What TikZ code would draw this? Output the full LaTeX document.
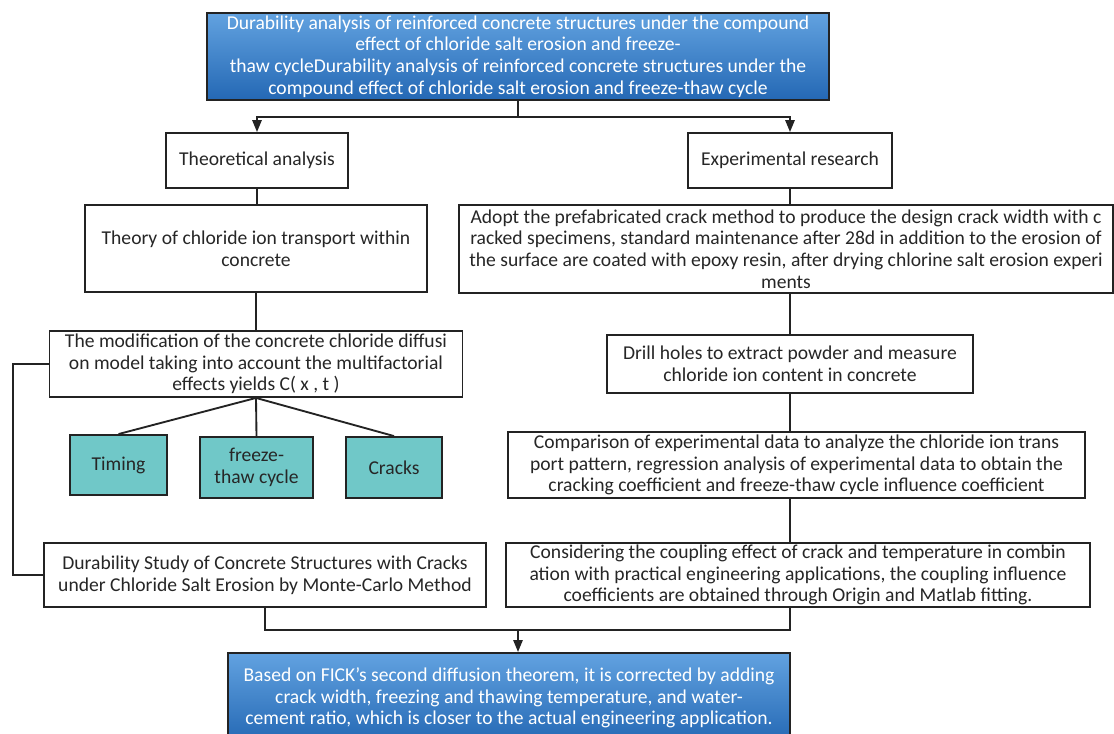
\documentclass[tikz,border=0pt]{standalone}
\usepackage{fontspec}
\setmainfont{Carlito}
\usepackage{xcolor}
\usetikzlibrary{arrows.meta}
\usetikzlibrary{calc}
\definecolor{bluetop}{RGB}{98,162,224}
\definecolor{bluebot}{RGB}{36,104,180}
\definecolor{tealbox}{RGB}{112,200,200}
\definecolor{edge}{RGB}{35,35,35}

\tikzset{
  box/.style={draw=edge, line width=1.4pt, fill=white, align=center, inner sep=0pt,
    text=black!85, font=\fontsize{14.7}{16.2}\selectfont},
  bluebox/.style={box, top color=bluetop, bottom color=bluebot, text=white},
  factor/.style={box, fill=tealbox},
  link/.style={draw=edge, line width=1.4pt},
  arr/.style={link, -{Triangle[length=9pt,width=7pt]}}
}

\begin{document}
\begin{tikzpicture}[x=0.75pt,y=-0.75pt]
   \useasboundingbox (0,0) rectangle (1114,734);

   \node[bluebox, minimum width=622*0.75pt, minimum height=87*0.75pt] (top) at (518,56.5)
     {Durability analysis of reinforced concrete structures under the compound\\
      effect of chloride salt erosion and freeze-\\
      thaw cycleDurability analysis of reinforced concrete structures under the\\
      compound effect of chloride salt erosion and freeze-thaw cycle};

   \node[box, minimum width=182*0.75pt, minimum height=55*0.75pt] (theo) at (257,160.5) {Theoretical analysis};
   \node[box, minimum width=204*0.75pt, minimum height=55*0.75pt] (exp) at (790,160.5) {Experimental research};

   \node[box, minimum width=342*0.75pt, minimum height=87*0.75pt] (transport) at (256,248.5)
     {Theory of chloride ion transport within\\concrete};
   \node[box, minimum width=654*0.75pt, minimum height=88*0.75pt] (adopt) at (786,249)
     {Adopt the prefabricated crack method to produce the design crack width with c\\
      racked specimens, standard maintenance after 28d in addition to the erosion of\\
      the surface are coated with epoxy resin, after drying chlorine salt erosion experi\\
      ments};

   \node[box, minimum width=413*0.75pt, minimum height=66*0.75pt] (model) at (256,364)
     {The modification of the concrete chloride diffusi\\
      on model taking into account the multifactorial\\
      effects yields C( x , t )};
   \node[box, minimum width=366*0.75pt, minimum height=58*0.75pt] (drill) at (790,364)
     {Drill holes to extract powder and measure\\chloride ion content in concrete};

   \node[factor, minimum width=97*0.75pt, minimum height=60*0.75pt] (timing) at (118.5,465) {Timing};
   \node[factor, minimum width=113*0.75pt, minimum height=61*0.75pt] (freeze) at (256.5,467.5) {freeze-\\thaw cycle};
   \node[factor, minimum width=96*0.75pt, minimum height=61*0.75pt] (cracks) at (394,467.5) {Cracks};

   \node[box, minimum width=577*0.75pt, minimum height=66*0.75pt] (compare) at (796.5,465)
     {Comparison of experimental data to analyze the chloride ion trans\\
      port pattern, regression analysis of experimental data to obtain the\\
      cracking coefficient and freeze-thaw cycle influence coefficient};

   \node[box, minimum width=442*0.75pt, minimum height=64*0.75pt] (monte) at (265,575)
     {Durability Study of Concrete Structures with Cracks\\
      under Chloride Salt Erosion by Monte-Carlo Method};
   \node[box, minimum width=584*0.75pt, minimum height=64*0.75pt] (couple) at (798,575)
     {Considering the coupling effect of crack and temperature in combin\\
      ation with practical engineering applications, the coupling influence\\
      coefficients are obtained through Origin and Matlab fitting.};

   \node[bluebox, minimum width=562*0.75pt, minimum height=90*0.75pt, anchor=north] (result) at (509,652)
     {Based on FICK's second diffusion theorem, it is corrected by adding\\
      crack width, freezing and thawing temperature, and water-\\
      cement ratio, which is closer to the actual engineering application.};

   \coordinate (split) at (518,117);
   \coordinate (join) at (518,630);

   \draw[link] (top.south) -- (split);
   \draw[arr] (split) -| (theo.north);
   \draw[arr] (split) -| (exp.north);

   \draw[link] (theo.south) -- (theo.south |- transport.north);
   \draw[link] (transport.south) -- (transport.south |- model.north);
   \draw[link] (model.south) -- (timing.north);
   \draw[link] (model.south) -- (freeze.north);
   \draw[link] (model.south) -- (cracks.north);
   \draw[link] (model.west) -- ++(-36,0) |- (monte.west);

   \draw[link] (exp.south) -- (exp.south |- adopt.north);
   \draw[link] (exp.south |- adopt.south) -- (exp.south |- drill.north);
   \draw[link] (exp.south |- drill.south) -- (exp.south |- compare.north);
   \draw[link] (exp.south |- compare.south) -- (exp.south |- couple.north);

   \draw[link] (monte.south) |- (join) -| (exp.south |- couple.south);
   \draw[arr] (join) -- (join |- result.north);
\end{tikzpicture}
\end{document}
